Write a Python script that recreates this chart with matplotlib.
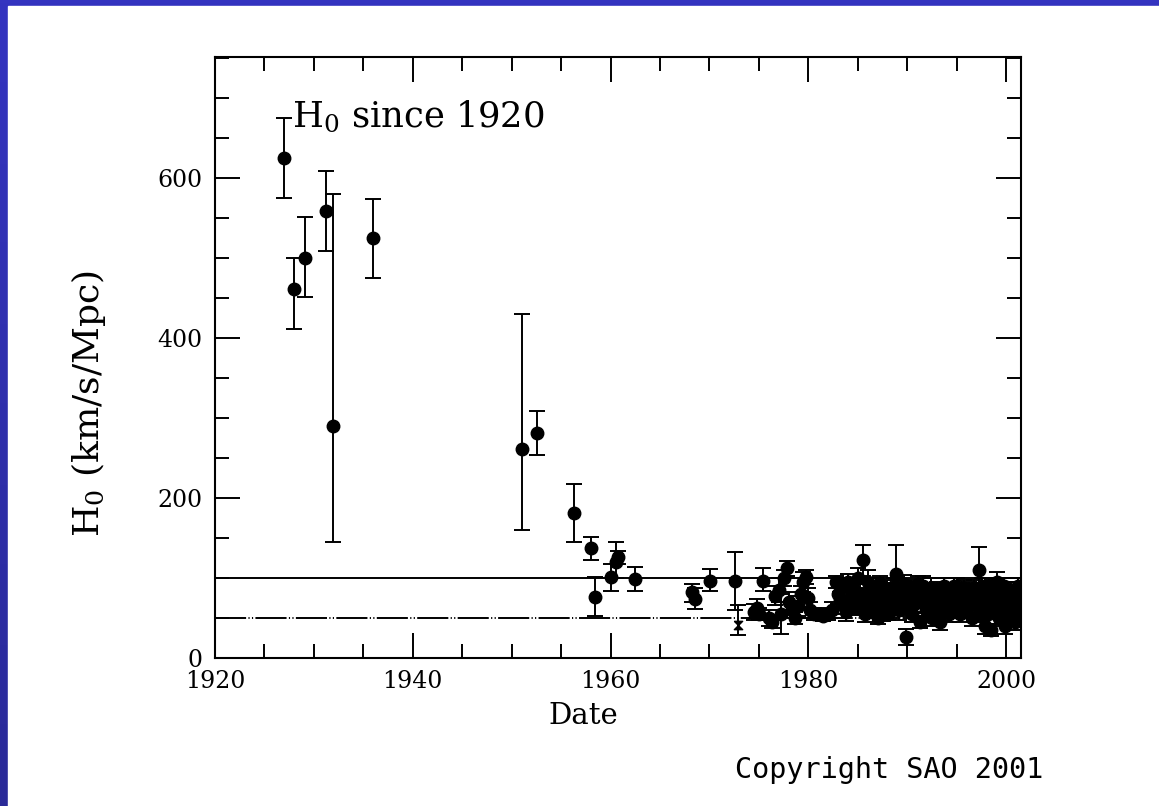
import matplotlib
matplotlib.use('Agg')
import matplotlib.pyplot as plt
from matplotlib.ticker import MultipleLocator
from matplotlib.patches import Rectangle
import numpy as np

# early measurements with asymmetric errors
early_year = [1927.0, 1928.0, 1929.1, 1931.2, 1931.9, 1936.0, 1951.0, 1952.6, 1956.3,
              1958.0, 1958.4, 1960.0, 1960.5, 1960.8, 1962.5, 1968.2, 1968.5, 1970.1,
              1972.6, 1975.4]
early_h0 = [625, 461, 500, 558, 290, 525, 261, 281, 181,
            137, 76, 101, 120, 126, 99, 82, 74, 96,
            96, 96]
early_lo = [575, 411, 451, 509, 145, 475, 160, 254, 145,
            122, 52, 84, 100, 118, 84, 70, 61, 84,
            60, 84]
early_hi = [675, 500, 551, 609, 580, 574, 430, 309, 217,
            151, 101, 118, 145, 134, 114, 93, 88, 111,
            132, 112]

# odd point drawn with a different symbol
odd_year = [1972.9]
odd_h0 = [41]
odd_lo = [29]
odd_hi = [66]

# recent measurements, symmetric errors
late_year = [1974.5, 1974.8, 1975.0, 1976.0, 1976.3, 1976.6, 1977.0, 1977.2, 1977.5, 1977.8,
             1978.0, 1978.3, 1978.6, 1979.0, 1979.3, 1979.5, 1979.8, 1980.0, 1980.2, 1980.6,
             1981.0, 1981.5, 1982.0, 1982.4, 1982.8, 1983.0, 1983.3, 1983.6, 1984.0, 1984.3,
             1984.6, 1985.0, 1985.3, 1985.5, 1985.7, 1986.0, 1986.2, 1986.5, 1986.8, 1987.0,
             1987.3, 1987.6, 1987.9, 1988.1, 1988.4, 1988.7, 1988.9, 1989.2, 1989.5, 1989.9,
             1990.2, 1990.5, 1990.8, 1991.0, 1991.3, 1991.6, 1991.9, 1992.2, 1992.5, 1992.8,
             1993.0, 1993.3, 1993.6, 1993.9, 1994.2, 1994.5, 1994.8, 1995.0, 1995.3, 1995.6,
             1995.9, 1996.2, 1996.5, 1996.8, 1997.0, 1997.3, 1997.5, 1997.7, 1997.9, 1998.1,
             1998.3, 1998.5, 1998.7, 1998.9, 1999.1, 1999.3, 1999.5, 1999.7, 1999.9, 2000.1,
             2000.3, 2000.5, 2000.7, 2000.9, 2001.1, 2001.3]
late_h0 = [58, 62, 55, 50, 45, 78, 85, 55, 100, 112,
           70, 60, 50, 65, 80, 95, 101, 75, 60, 55,
           55, 52, 55, 60, 95, 80, 90, 65, 95, 75,
           85, 100, 70, 122, 55, 95, 80, 60, 90, 50,
           75, 65, 85, 55, 70, 90, 105, 60, 80, 26,
           75, 55, 85, 70, 45, 90, 60, 80, 50, 70,
           85, 45, 65, 75, 55, 80, 65, 90, 55, 70,
           60, 85, 50, 75, 65, 110, 55, 80, 40, 70,
           90, 35, 60, 75, 95, 50, 65, 80, 40, 70,
           55, 85, 65, 45, 75, 60]
late_err = [10, 12, 8, 10, 8, 12, 15, 25, 10, 9,
            12, 10, 8, 12, 10, 12, 9, 12, 10, 8,
            6, 6, 8, 10, 8, 12, 10, 10, 10, 12,
            10, 12, 15, 19, 10, 15, 12, 10, 10, 8,
            15, 10, 12, 8, 12, 10, 36, 12, 10, 10,
            15, 10, 10, 12, 8, 12, 10, 12, 10, 12,
            10, 10, 12, 10, 10, 10, 12, 10, 10, 12,
            10, 10, 10, 12, 10, 29, 10, 12, 10, 12,
            10, 8, 10, 12, 12, 10, 12, 10, 10, 12,
            10, 10, 12, 10, 10, 12]

# extra recent measurements filling the crowded 1983-2001 band
fill_year = [1983.2, 1983.8, 1984.2, 1984.8, 1985.2, 1985.9, 1986.4, 1986.9, 1987.2, 1987.5,
             1987.8, 1988.2, 1988.5, 1988.8, 1989.1, 1989.4, 1989.7, 1990.0, 1990.4, 1990.7,
             1991.1, 1991.4, 1991.8, 1992.1, 1992.4, 1992.7, 1993.1, 1993.4, 1993.7, 1994.0,
             1994.4, 1994.7, 1995.1, 1995.4, 1995.7, 1996.0, 1996.4, 1996.7, 1997.1, 1997.4,
             1997.6, 1997.8, 1998.0, 1998.2, 1998.4, 1998.6, 1998.8, 1999.0, 1999.2, 1999.4,
             1999.6, 1999.8, 2000.0, 2000.2, 2000.4, 2000.6, 2000.8, 2001.0, 2001.2, 2001.4]
fill_h0 = [72, 58, 88, 62, 80, 68, 88, 72, 92, 58,
           70, 82, 60, 75, 88, 70, 92, 62, 88, 68,
           92, 78, 72, 62, 88, 82, 60, 80, 90, 70,
           62, 90, 75, 82, 88, 68, 70, 88, 80, 72,
           90, 62, 82, 55, 75, 85, 90, 62, 72, 85,
           55, 90, 62, 80, 72, 55, 85, 70, 90, 80]
fill_err = [10, 12, 10, 8, 12, 10, 12, 10, 10, 12,
            10, 12, 10, 12, 10, 10, 12, 10, 10, 12,
            10, 12, 10, 10, 12, 10, 12, 10, 10, 12,
            10, 10, 12, 10, 10, 12, 10, 10, 12, 10,
            10, 12, 10, 12, 10, 12, 10, 10, 12, 10,
            12, 10, 12, 10, 10, 12, 10, 12, 10, 10]

# reference lines
ref_lines = [100, 50]

BLUE_TOP = np.array([0x34, 0x34, 0xC0]) / 255
BLUE_BOT = np.array([0x2A, 0x2A, 0x98]) / 255

plt.rcParams['font.family'] = 'DejaVu Serif'
plt.rcParams['mathtext.fontset'] = 'dejavuserif'

fig = plt.figure(figsize=(11.59, 8.06), dpi=100)

# blue gradient frame
bg = fig.add_axes([0, 0, 1, 1], zorder=-10)
grad = np.linspace(0, 1, 256)[:, None, None]
img = BLUE_TOP * (1 - grad) + BLUE_BOT * grad
bg.imshow(img, aspect='auto', extent=[0, 1, 0, 1])
bg.add_patch(Rectangle((8 / 1159, 0), 1, 1 - 6 / 806, color='white'))
bg.set_xlim(0, 1)
bg.set_ylim(0, 1)
bg.axis('off')

ax = fig.add_axes([215 / 1159, 1 - 658 / 806, (1021 - 215) / 1159, (658 - 57) / 806])
ax.set_facecolor('none')

eb = dict(fmt='o', color='black', ms=9, capsize=6, elinewidth=1.4, capthick=1.4)
ey = np.array(early_h0)
ax.errorbar(early_year, early_h0,
            yerr=[ey - np.array(early_lo), np.array(early_hi) - ey], **eb)
ax.errorbar(late_year, late_h0, yerr=late_err, **eb)
ax.errorbar(fill_year, fill_h0, yerr=fill_err, **eb)
oy = np.array(odd_h0)
hourglass = [(-1, 1), (1, 1), (-1, -1), (1, -1), (-1, 1)]
ax.errorbar(odd_year, odd_h0,
            yerr=[oy - np.array(odd_lo), np.array(odd_hi) - oy],
            fmt='none', color='black', capsize=6, elinewidth=1.4, capthick=1.4)
ax.plot(odd_year, odd_h0, marker=hourglass, color='black', ms=6, ls='none')

ax.axhline(ref_lines[0], color='black', lw=1.4)
ax.axhline(ref_lines[1], color='black', lw=1.4, ls=(0, (16, 1.2, 0.6, 1.2, 0.6, 1.2)))

ax.set_xlim(1920, 2001.5)
ax.set_ylim(0, 751)
ax.xaxis.set_major_locator(MultipleLocator(20))
ax.xaxis.set_minor_locator(MultipleLocator(5))
ax.yaxis.set_major_locator(MultipleLocator(200))
ax.yaxis.set_minor_locator(MultipleLocator(50))
ax.tick_params(which='both', direction='in', top=True, right=True, width=1.4,
               labelsize=17, colors='black')
ax.tick_params(which='major', length=18, pad=9)
ax.tick_params(which='minor', length=10)
for s in ax.spines.values():
    s.set_linewidth(1.5)

ax.set_xlabel('Date', fontsize=21)
ax.xaxis.set_label_coords(0.457, -0.073)
ax.set_ylabel(r'H$_0$ (km/s/Mpc)', fontsize=26)
ax.yaxis.set_label_coords(-0.133, 0.423)

ax.text(1927.8, 676, r'H$_0$ since 1920', fontsize=25.5, va='center', ha='left')

fig.text(1043 / 1159, 1 - 770 / 806, 'Copyright SAO 2001', family='DejaVu Sans Mono',
         fontsize=20.5, ha='right', va='center')

fig.savefig('out.png', dpi=100)
